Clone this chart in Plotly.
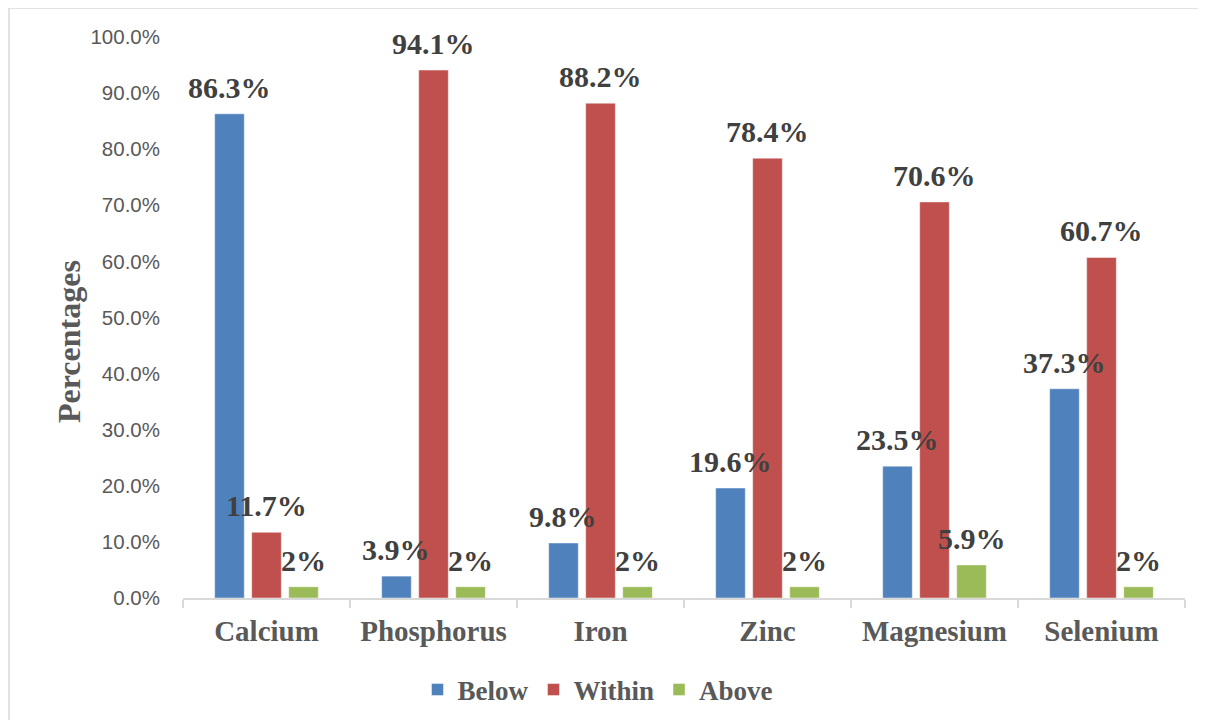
import plotly.graph_objects as go

categories = ["Calcium", "Phosphorus", "Iron", "Zinc", "Magnesium", "Selenium"]
below = [86.3, 3.9, 9.8, 19.6, 23.5, 37.3]
within = [11.7, 94.1, 88.2, 78.4, 70.6, 60.7]
above = [2.0, 2.0, 2.0, 2.0, 5.9, 2.0]
y_ticks = [0, 10, 20, 30, 40, 50, 60, 70, 80, 90, 100]

series = [("Below", below, "#4F81BD"), ("Within", within, "#C0504D"), ("Above", above, "#9BBB59")]

def fmt(v):
    return f"{v:g}%"

# page has an 8px body margin; work in page pixels and convert
OFF = 8
W, H = 1206 - OFF, 720 - OFF
plot_l, plot_r, plot_t, plot_b = 183 - OFF, 1185 - OFF, 37 - OFF, 598 - OFF
L, R, T, B = plot_l, W - plot_r, plot_t, H - plot_b
pw, ph = plot_r - plot_l, plot_b - plot_t

def px_x(p):
    return (p - OFF - plot_l) / pw

def px_y(p):
    return (plot_b - (p - OFF)) / ph

slot = pw / len(categories) * (1 - 0.335) / 3

fig = go.Figure()
annotations = []
for i, (name, vals, col) in enumerate(series):
    fig.add_trace(go.Bar(
        name=name, x=categories, y=vals,
        marker=dict(color=col, line=dict(color="rgba(255,255,255,0.45)", width=1)),
    ))
    for c, v in zip(categories, vals):
        annotations.append(dict(
            x=c, y=v, xref="x", yref="y", text=fmt(v), showarrow=False,
            xanchor="center", yanchor="bottom", xshift=(i - 1) * slot, yshift=8,
            font=dict(family="Liberation Serif", size=30, color="#404040", weight="bold"),
        ))

annotations.append(dict(
    x=px_x(69), y=px_y(342), xref="paper", yref="paper", text="Percentages",
    textangle=-90, showarrow=False, xanchor="center", yanchor="middle",
    font=dict(family="Liberation Serif", size=32, color="#595959", weight="bold"),
))

fig.update_layout(
    width=W, height=H,
    margin=dict(l=L, r=R, t=T, b=B, autoexpand=False),
    paper_bgcolor="white", plot_bgcolor="white",
    barmode="group", bargap=0.335, bargroupgap=0.2,
    showlegend=True,
    legend=dict(orientation="h", x=px_x(598), y=px_y(690), xanchor="center", yanchor="middle",
                font=dict(family="Liberation Serif", size=27, color="#595959", weight="bold"),
                itemwidth=30, traceorder="normal"),
    xaxis=dict(showgrid=False, showline=True, linecolor="#D9D9D9", linewidth=1.5,
               ticks="outside", tickson="boundaries", ticklen=8, tickcolor="#D9D9D9", tickwidth=1.5,
               tickfont=dict(family="Liberation Serif", size=29, color="#595959", weight="bold"),
               ticklabelstandoff=6),
    yaxis=dict(range=[0, 100], tickvals=y_ticks, ticktext=[f"{v:.1f}%" for v in y_ticks],
               showgrid=False, showline=False, zeroline=False, ticks="",
               tickfont=dict(family="Liberation Sans", size=20.5, color="#595959"),
               ticklabelstandoff=22),
    annotations=annotations,
    shapes=[dict(type="rect", xref="paper", yref="paper",
                 x0=px_x(9), x1=px_x(1215), y0=px_y(730), y1=px_y(8),
                 line=dict(color="#D9D9D9", width=1.5), fillcolor="rgba(0,0,0,0)", layer="below")],
)

fig.write_html("out.html")
